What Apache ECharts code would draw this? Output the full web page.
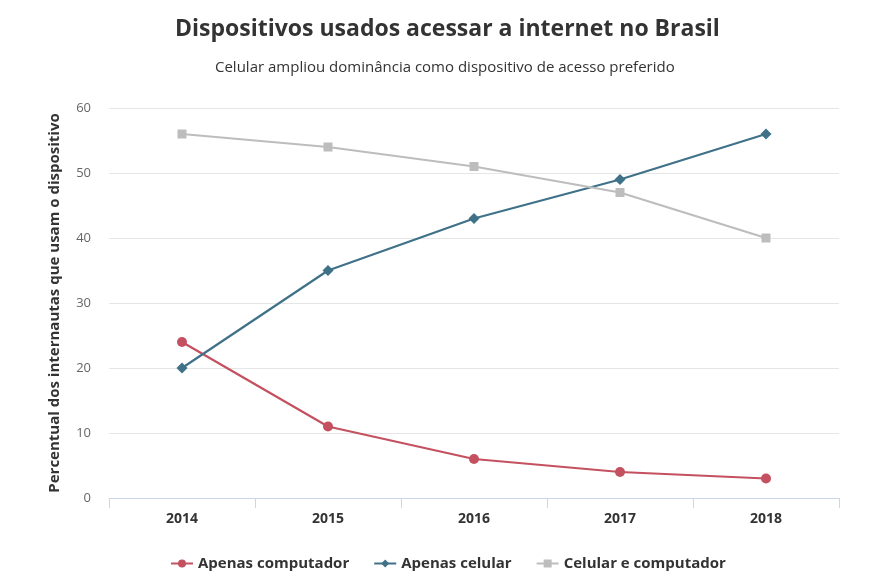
<!DOCTYPE html>
<html><head><meta charset="utf-8">
<script src="https://cdn.jsdelivr.net/npm/echarts@6/dist/echarts.min.js"></script>
<style>html,body{margin:0;padding:0;background:#fff}#c{width:875px;height:582px}</style>
</head><body><div id="c"></div>
<script>
const categories = ['2014','2015','2016','2017','2018'];
const apenasComputador = [24, 11, 6, 4, 3];
const apenasCelular = [20, 35, 43, 49, 56];
const celularEComputador = [56, 54, 51, 47, 40];
const seriesNames = ['Apenas computador','Apenas celular','Celular e computador'];
const font = '"Open Sans", "Noto Sans", sans-serif';
const chart = echarts.init(document.getElementById('c'));
chart.setOption({
  animation: false,
  textStyle: {fontFamily: font},
  title: [{
    text: 'Dispositivos usados acessar a internet no Brasil',
    left: 170, top: 13,
    textStyle: {fontFamily: font, fontSize: 23, fontWeight: 'bold', color: '#333'}
  },{
    text: 'Celular ampliou dominância como dispositivo de acesso preferido',
    left: 210, top: 55,
    textStyle: {fontFamily: font, fontSize: 15, fontWeight: 'normal', color: '#333'}
  }],
  legend: {
    bottom: 6, left: 165, itemGap: 24, itemWidth: 22, itemHeight: 10,
    textStyle: {fontFamily: font, fontSize: 15, fontWeight: 'bold', color: '#333'},
    data: seriesNames
  },
  grid: {left: 109, right: 36, top: 108, bottom: 84},
  xAxis: {
    type: 'category', data: categories, boundaryGap: true,
    axisLine: {lineStyle: {color: '#ccd6eb'}},
    axisTick: {show: true, length: 10, lineStyle: {color: '#ccd6eb'}},
    axisLabel: {fontFamily: font, fontSize: 14, fontWeight: 'bold', color: '#333', margin: 14}
  },
  yAxis: {
    type: 'value', min: 0, max: 60, interval: 10,
    name: 'Percentual dos internautas que usam o dispositivo',
    nameLocation: 'middle', nameGap: 47,
    nameTextStyle: {fontFamily: font, fontSize: 15, fontWeight: 'bold', color: '#333'},
    axisLine: {show: false}, axisTick: {show: false},
    splitLine: {lineStyle: {color: '#e6e6e6'}},
    axisLabel: {fontFamily: font, fontSize: 13, color: '#666', margin: 18}
  },
  series: [{
    name: seriesNames[0], type: 'line', data: apenasComputador,
    symbol: 'circle', symbolSize: 10,
    itemStyle: {color: '#c4515f'}, lineStyle: {width: 2.2, color: '#c4515f'}
  },{
    name: seriesNames[1], type: 'line', data: apenasCelular,
    symbol: 'diamond', symbolSize: 11,
    itemStyle: {color: '#3f7189'}, lineStyle: {width: 2.2, color: '#3f7189'}
  },{
    name: seriesNames[2], type: 'line', data: celularEComputador,
    symbol: 'rect', symbolSize: 9,
    itemStyle: {color: '#bdbdbd'}, lineStyle: {width: 2.2, color: '#bdbdbd'}
  }]
});
</script></body></html>
